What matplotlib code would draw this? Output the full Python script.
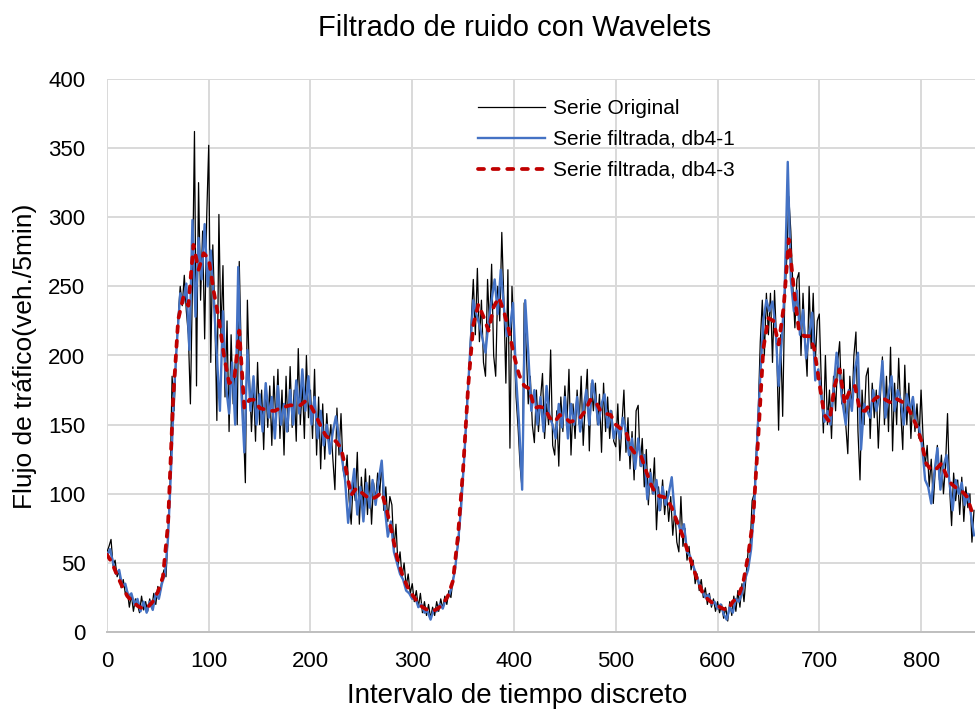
import numpy as np
import matplotlib
matplotlib.use("Agg")
import matplotlib.pyplot as plt

plt.rcParams['font.family'] = ['Liberation Sans', 'DejaVu Sans']

# serie original, una muestra cada 2 intervalos
paso_original = 2
serie_original = [
    58, 62, 67, 48, 52, 40, 44, 32, 38, 28,
    30, 18, 27, 15, 24, 20, 14, 26, 16, 22,
    15, 24, 17, 28, 20, 33, 27, 38, 45, 40,
    70, 105, 185, 160, 200, 228, 250, 236, 258, 232,
    215, 165, 250, 362, 178, 325, 240, 290, 212, 300,
    352, 195, 280, 230, 153, 302, 215, 265, 170, 225,
    145, 215, 165, 195, 150, 268, 200, 150, 108, 240,
    185, 145, 178, 138, 195, 150, 175, 132, 180, 148,
    178, 135, 185, 152, 190, 140, 175, 128, 185, 145,
    192, 148, 175, 138, 205, 150, 180, 140, 200, 155,
    175, 140, 190, 128, 170, 118, 165, 125, 158, 135,
    150, 125, 103, 162, 128, 158, 118, 110, 128, 95,
    78, 110, 95, 130, 78, 112, 90, 118, 85, 113,
    78, 108, 95, 115, 100, 122, 88, 105, 80, 98,
    92, 60, 78, 48, 58, 40, 50, 33, 42, 28,
    35, 22, 30, 18, 28, 14, 22, 12, 20, 10,
    18, 12, 22, 15, 24, 17, 26, 20, 30, 25,
    38, 45, 58, 68, 100, 118, 140, 170, 192, 225,
    255, 215, 263, 210, 240, 195, 185, 255, 220, 266,
    200, 185, 250, 225, 289, 240, 180, 262, 133, 250,
    215, 170, 148, 120, 103, 238, 205, 165, 185, 150,
    137, 175, 145, 168, 187, 140, 165, 150, 204, 135,
    128, 160, 120, 170, 145, 178, 150, 190, 128, 165,
    140, 175, 150, 185, 135, 165, 190, 131, 180, 160,
    180, 150, 172, 130, 180, 145, 170, 140, 160, 138,
    134, 165, 124, 150, 175, 130, 155, 118, 145, 110,
    160, 164, 120, 140, 105, 132, 92, 118, 100, 126,
    74, 105, 88, 110, 85, 102, 80, 98, 70, 88,
    65, 58, 98, 62, 75, 52, 62, 45, 52, 35,
    42, 30, 38, 25, 32, 20, 28, 18, 24, 15,
    22, 14, 20, 10, 18, 8, 22, 12, 26, 15,
    30, 18, 35, 22, 40, 58, 62, 95, 100, 130,
    160, 210, 240, 200, 245, 215, 245, 195, 247, 210,
    146, 215, 156, 240, 270, 315, 290, 250, 220, 255,
    260, 200, 245, 210, 185, 250, 205, 245, 195, 225,
    230, 180, 144, 200, 150, 175, 140, 185, 160, 195,
    210, 165, 190, 150, 129, 185, 160, 200, 217, 145,
    110, 175, 150, 185, 191, 140, 180, 155, 175, 133,
    170, 199, 150, 185, 145, 206, 131, 180, 150, 198,
    160, 132, 193, 150, 180, 140, 170, 145, 165, 140,
    175, 140, 120, 135, 105, 125, 93, 118, 135, 110,
    128, 100, 120, 158, 105, 77, 115, 95, 110, 85,
    112, 80, 105, 90, 100, 65, 88,
]

# filtrado db4 nivel 1, una muestra cada 3 intervalos
paso_db4_1 = 3
serie_db4_1 = [
    55, 60, 50, 42, 45, 33, 35, 26, 28, 20,
    24, 15, 22, 14, 22, 16, 28, 24, 35, 42,
    68, 118, 175, 212, 245, 238, 252, 204, 298, 228,
    285, 255, 295, 250, 276, 240, 200, 160, 232, 178,
    158, 195, 150, 264, 175, 130, 204, 160, 185, 150,
    172, 145, 180, 155, 170, 140, 178, 150, 165, 145,
    175, 150, 182, 158, 190, 160, 185, 150, 170, 140,
    160, 135, 150, 129, 145, 156, 140, 125, 110, 79,
    100, 118, 85, 105, 80, 108, 90, 110, 92, 110,
    124, 90, 69, 80, 58, 50, 42, 38, 30, 28,
    24, 25, 18, 20, 14, 15, 9, 16, 15, 20,
    17, 24, 26, 33, 45, 65, 90, 125, 165, 205,
    240, 230, 222, 212, 202, 225, 240, 255, 230, 262,
    235, 214, 220, 238, 185, 150, 103, 240, 202, 160,
    175, 150, 170, 145, 178, 155, 150, 140, 165, 148,
    170, 140, 165, 150, 170, 145, 160, 175, 150, 182,
    168, 150, 165, 172, 148, 160, 140, 150, 140, 155,
    145, 128, 140, 118, 140, 120, 128, 96, 115, 100,
    110, 88, 105, 92, 100, 112, 85, 80, 72, 78,
    58, 55, 48, 42, 35, 30, 25, 27, 20, 22,
    17, 20, 13, 9, 18, 14, 24, 22, 28, 38,
    45, 60, 90, 140, 185, 225, 240, 232, 239, 220,
    178, 210, 248, 340, 255, 232, 247, 215, 233, 198,
    215, 231, 182, 190, 170, 152, 160, 150, 175, 202,
    185, 165, 150, 175, 160, 190, 202, 132, 165, 160,
    155, 175, 160, 170, 196, 155, 172, 185, 160, 175,
    168, 150, 172, 160, 170, 150, 148, 135, 110, 105,
    93, 115, 133, 103, 120, 128, 108, 88, 110, 100,
    108, 92, 100, 85, 70,
]

# filtrado db4 nivel 3, una muestra cada 5 intervalos
paso_db4_3 = 5
serie_db4_3 = [
    56, 50, 41, 33, 26, 22, 19, 17, 18, 22,
    29, 40, 78, 168, 226, 242, 236, 280, 262, 274,
    270, 246, 226, 200, 180, 182, 218, 162, 168, 168,
    162, 161, 160, 160, 162, 163, 164, 164, 164, 167,
    164, 157, 149, 142, 139, 138, 133, 117, 99, 104,
    101, 98, 96, 98, 101, 88, 72, 54, 42, 33,
    27, 22, 18, 16, 15, 17, 20, 26, 37, 70,
    118, 178, 222, 237, 228, 218, 235, 242, 232, 218,
    200, 186, 178, 176, 162, 163, 162, 155, 152, 157,
    155, 152, 153, 155, 160, 168, 167, 160, 158, 157,
    150, 147, 145, 133, 128, 127, 116, 106, 99, 98,
    97, 90, 80, 71, 60, 49, 38, 29, 24, 21,
    19, 17, 16, 22, 25, 35, 55, 82, 141, 205,
    227, 225, 208, 235, 284, 248, 218, 214, 214, 205,
    180, 157, 152, 178, 190, 165, 175, 178, 160, 160,
    165, 169, 171, 168, 166, 169, 167, 165, 158, 150,
    139, 122, 117, 118, 122, 113, 107, 104, 102, 98,
    87,
]

x_original = np.arange(len(serie_original)) * paso_original
x_db4_1 = np.arange(len(serie_db4_1)) * paso_db4_1
x_db4_3 = np.arange(len(serie_db4_3)) * paso_db4_3

fig = plt.figure(figsize=(9.75, 7.11), dpi=100)
ax = fig.add_axes([0.1097, 0.111, 0.8903, 0.778])

ax.plot(x_original, serie_original, color='black', lw=0.9, label='Serie Original', zorder=2)
ax.plot(x_db4_1, serie_db4_1, color='#4472C4', lw=1.7, label='Serie filtrada, db4-1', zorder=3)
ax.plot(x_db4_3, serie_db4_3, color='#C00000', lw=2.7, ls=(0, (1.6, 2.3)),
        dash_capstyle='round', label='Serie filtrada, db4-3', zorder=4)

ax.set_xlim(0, 853)
ax.set_ylim(0, 400)
ax.set_xticks(np.arange(0, 801, 100))
ax.set_yticks(np.arange(0, 401, 50))
ax.grid(True, color='#d9d9d9', lw=1.4)
ax.set_axisbelow(True)
for lado in ['top', 'right', 'left']:
    ax.spines[lado].set_visible(False)
ax.spines['bottom'].set_color('#bfbfbf')
ax.spines['bottom'].set_linewidth(1.4)
ax.tick_params(axis='both', length=0, labelsize=16, colors='black')
ax.tick_params(axis='x', pad=13.5)
ax.tick_params(axis='y', pad=15.5)

# titulos
fig.text(0.528, 0.961, 'Filtrado de ruido con Wavelets', ha='center', va='center', fontsize=21)
fig.text(0.53, 0.021, 'Intervalo de tiempo discreto', ha='center', va='center', fontsize=20)
fig.text(0.0256, 0.4993, 'Flujo de tráfico(veh./5min)', ha='center', va='center',
         rotation=90, fontsize=19)

ax.legend(loc='upper left', bbox_to_anchor=(0.4274, 0.9635), frameon=False, fontsize=15,
          handlelength=3.2, handletextpad=0.38, labelspacing=0.57, borderpad=0,
          borderaxespad=0)

fig.savefig('out.png', dpi=100)
